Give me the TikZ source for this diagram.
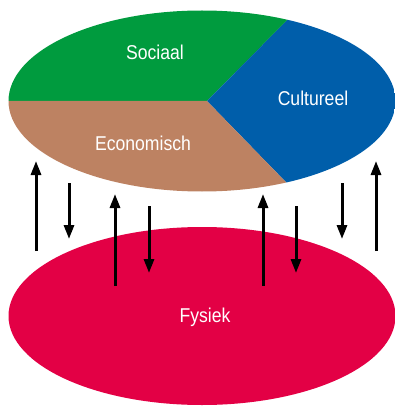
\documentclass[tikz,border=0pt]{standalone}
\usepackage{fontspec}
\newfontfamily\condfont[FakeStretch=0.88]{Liberation Sans}
\usetikzlibrary{arrows.meta}
\definecolor{cgreen}{RGB}{0,155,62}
\definecolor{cblue}{RGB}{0,94,170}
\definecolor{cbrown}{RGB}{189,130,98}
\definecolor{cred}{RGB}{227,0,69}
\begin{document}
\begin{tikzpicture}[x=1pt,y=-1pt,
  lbl/.style={text=white,font=\condfont\fontsize{20}{24}\selectfont,inner sep=0pt},
  link/.style={line width=3pt,-{Triangle[length=14pt,width=10pt]}}]
\useasboundingbox (0,0) rectangle (395,406);
% top pie ellipse
\begin{scope}
  \clip (202,101) ellipse [x radius=193.5, y radius=90.5];
  \fill[cgreen] (207,101) -- (-10,101) -- (-10,-10) -- (317,-10) -- cycle;
  \fill[cblue] (207,101) -- (317,-10) -- (420,-10) -- (420,210) -- (313,210) -- cycle;
  \fill[cbrown] (207,101) -- (313,210) -- (-10,210) -- (-10,101) -- cycle;
\end{scope}
% bottom ellipse
\fill[cred] (202,316) ellipse [x radius=193.5, y radius=89];
% labels
\node[lbl] (soc) at (155,52) {Sociaal};
\node[lbl] (cul) at (313,98) {Cultureel};
\node[lbl] (eco) at (143,143) {Economisch};
\node[lbl] (fys) at (205,317) {Fysiek};
% arrow end points
\coordinate (a1s) at (36,251);  \coordinate (a1e) at (36,161);
\coordinate (a2s) at (69,183);  \coordinate (a2e) at (69,239);
\coordinate (a3s) at (115,286); \coordinate (a3e) at (115,194);
\coordinate (a4s) at (149,206); \coordinate (a4e) at (149,273);
\coordinate (a5s) at (263,286); \coordinate (a5e) at (263,194);
\coordinate (a6s) at (296,206); \coordinate (a6e) at (296,273);
\coordinate (a7s) at (342,183); \coordinate (a7e) at (342,239);
\coordinate (a8s) at (376,251); \coordinate (a8e) at (376,161);
\foreach \i in {1,...,8} \draw[link] (a\i s) -- (a\i e);
\end{tikzpicture}
\end{document}
